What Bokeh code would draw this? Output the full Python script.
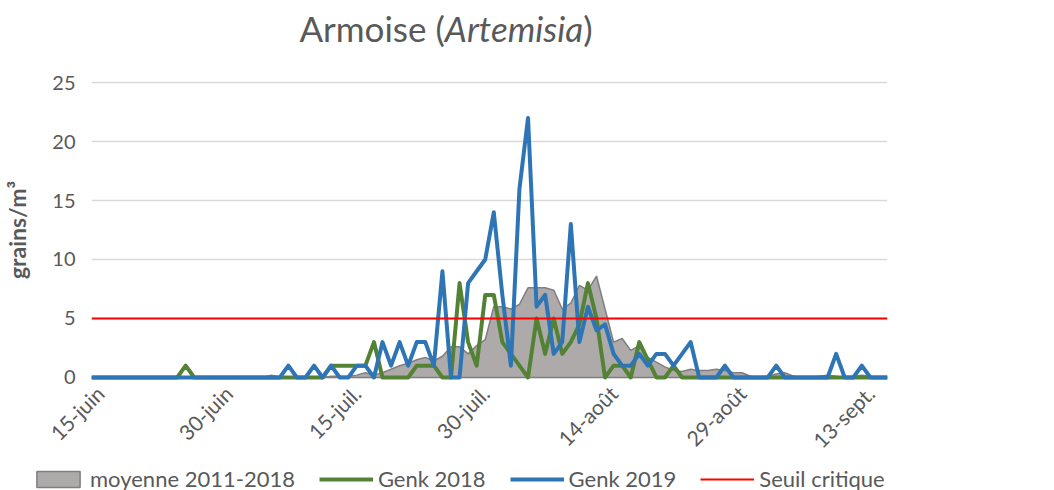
import math
from bokeh.plotting import figure
from bokeh.layouts import column
from bokeh.models import Range1d, FixedTicker, Legend, LegendItem, Div
from bokeh.embed import file_html
from bokeh.resources import INLINE

# ---- data (one value per day, 14 June -> 15 Sept) ----
TICK_POS = [1, 16, 31, 46, 61, 76, 91]
TICK_LABELS = ["15-juin", "30-juin", "15-juil.", "30-juil.", "14-août", "29-août", "13-sept."]

MOYENNE = [
    0, 0, 0, 0, 0, 0, 0, 0, 0, 0,
    0, 0, 0, 0, 0, 0, 0, 0, 0, 0,
    0, 0.2, 0, 0, 0, 0, 0, 0, 0.1, 0.1,
    0.1, 0.2, 0.4, 0.2, 0.4, 0.7, 1.0, 1.2, 1.5, 1.7,
    1.4, 1.8, 2.6, 2.6, 2.0, 2.7, 3.2, 6.0, 6.0, 5.8,
    6.2, 7.6, 7.6, 7.6, 7.4, 5.8, 6.3, 7.8, 7.4, 8.6,
    5.8, 3.0, 3.3, 2.3, 2.7, 1.7, 1.3, 0.9, 0.6, 0.5,
    0.7, 0.6, 0.6, 0.7, 0.6, 0.4, 0.4, 0.1, 0, 0.1,
    0.3, 0.4, 0.1, 0, 0, 0.1, 0.2, 0.1, 0, 0.1,
    0.2, 0.1, 0, 0,
]

GENK_2018 = [
    0, 0, 0, 0, 0, 0, 0, 0, 0, 0,
    0, 1, 0, 0, 0, 0, 0, 0, 0, 0,
    0, 0, 0, 0, 0, 0, 0, 0, 1, 1,
    1, 1, 1, 3, 0, 0, 0, 0, 1, 1,
    1, 0, 0, 8, 3, 1, 7, 7, 3, 2,
    1, 0, 5, 2, 5, 2, 3, 4.5, 8, 5,
    0, 1, 1, 0, 3, 1.5, 0, 0, 1, 0,
    0, 0, 0, 0, 0, 0, 0, 0, 0, 0,
    0, 0, 0, 0, 0, 0, 0, 0, 0, 0,
    0, 0, 0, 0,
]

GENK_2019 = [
    0, 0, 0, 0, 0, 0, 0, 0, 0, 0,
    0, 0, 0, 0, 0, 0, 0, 0, 0, 0,
    0, 0, 0, 1, 0, 0, 1, 0, 1, 0,
    0, 1, 1, 0, 3, 1, 3, 1, 3, 3,
    1, 9, 0, 0, 8, 9, 10, 14, 7, 1,
    16, 22, 6, 7, 2, 3, 13, 3, 6, 4,
    4.5, 2, 1, 1, 2, 1, 2, 2, 1, 2,
    3, 0, 0, 0, 1, 0, 0, 0, 0, 0,
    1, 0, 0, 0, 0, 0, 0, 2, 0, 0,
    1, 0, 0, 0,
]

SEUIL = 5
Y_TICKS = [0, 5, 10, 15, 20, 25]

TEXT = "#595959"
FONT = "Lato"
C_AREA, C_AREA_LINE = "#aeaaaa", "#7f7f7f"
C_2018, C_2019, C_SEUIL = "#548235", "#2e75b6", "#ff0000"

n = len(GENK_2019)
x = list(range(n))

title = Div(
    text='Armoise (<i>Artemisia</i>)',
    width=882, height=46,
    styles={"font-family": "Lato", "font-size": "35px", "color": TEXT,
            "text-align": "center", "line-height": "46px", "white-space": "nowrap"},
)

p = figure(
    frame_width=796, frame_height=303,
    x_range=Range1d(0, n - 1), y_range=Range1d(-0.34, 25.34),
    output_backend="svg", toolbar_location=None,
    min_border_left=84, min_border_top=22, min_border_right=30, min_border_bottom=0,
)
p.outline_line_color = None

p.patch(x + x[::-1], MOYENNE + [0] * n,
        fill_color=C_AREA, line_color=C_AREA_LINE, line_width=1.5)
p.line(x, GENK_2018, line_color=C_2018, line_width=4, line_join="round")
p.line(x, GENK_2019, line_color=C_2019, line_width=4, line_join="round")
p.line(x, [SEUIL] * n, line_color=C_SEUIL, line_width=2)

p.xaxis.ticker = FixedTicker(ticks=TICK_POS)
p.xaxis.major_label_overrides = {t: l for t, l in zip(TICK_POS, TICK_LABELS)}
p.xaxis.major_label_orientation = math.pi / 4
p.xaxis.axis_line_color = None
p.xaxis.major_tick_line_color = None
p.xaxis.minor_tick_line_color = None
p.xaxis.major_label_text_font = FONT
p.xaxis.major_label_text_font_size = "21px"
p.xaxis.major_label_text_color = TEXT
p.xaxis.major_label_standoff = 2

p.yaxis.ticker = FixedTicker(ticks=Y_TICKS)
p.yaxis.axis_line_color = None
p.yaxis.major_tick_line_color = None
p.yaxis.minor_tick_line_color = None
p.yaxis.major_label_text_font = FONT
p.yaxis.major_label_text_font_size = "20px"
p.yaxis.major_label_text_color = TEXT
p.yaxis.major_label_standoff = 10
p.yaxis.axis_label = "grains/m³"
p.yaxis.axis_label_text_font = FONT
p.yaxis.axis_label_text_font_size = "23px"
p.yaxis.axis_label_text_font_style = "bold"
p.yaxis.axis_label_text_color = TEXT
p.yaxis.axis_label_standoff = 18

p.xgrid.grid_line_color = None
p.ygrid.grid_line_color = "#d9d9d9"
p.ygrid.grid_line_width = 1.5

# legend strip: its own small figure (separate root, so no frame alignment)
lf = figure(width=1000, height=28, x_range=Range1d(0, 1), y_range=Range1d(0, 1),
            output_backend="svg", toolbar_location=None, min_border=0)
lf.axis.visible = False
lf.grid.visible = False
lf.outline_line_color = None
r_area = lf.patch([-5, -4, -4], [-5, -5, -4], fill_color=C_AREA, line_color=C_AREA_LINE, line_width=1.5)
r_18 = lf.line([-5, -4], [-5, -5], line_color=C_2018, line_width=4)
r_19 = lf.line([-5, -4], [-5, -5], line_color=C_2019, line_width=4)
r_s = lf.line([-5, -4], [-5, -5], line_color=C_SEUIL, line_width=2)

legend = Legend(
    items=[
        LegendItem(label="moyenne 2011-2018", renderers=[r_area]),
        LegendItem(label="Genk 2018", renderers=[r_18]),
        LegendItem(label="Genk 2019", renderers=[r_19]),
        LegendItem(label="Seuil critique", renderers=[r_s]),
    ],
    orientation="horizontal", location=(31, 0),
    glyph_width=54, glyph_height=20, label_standoff=5, spacing=24,
    padding=0, margin=0, border_line_color=None, background_fill_alpha=0,
    label_text_font=FONT, label_text_font_size="22px", label_text_color=TEXT,
)
lf.add_layout(legend, "center")

layout = column(title, p)
open("out.html", "w").write(file_html([layout, lf], INLINE))
